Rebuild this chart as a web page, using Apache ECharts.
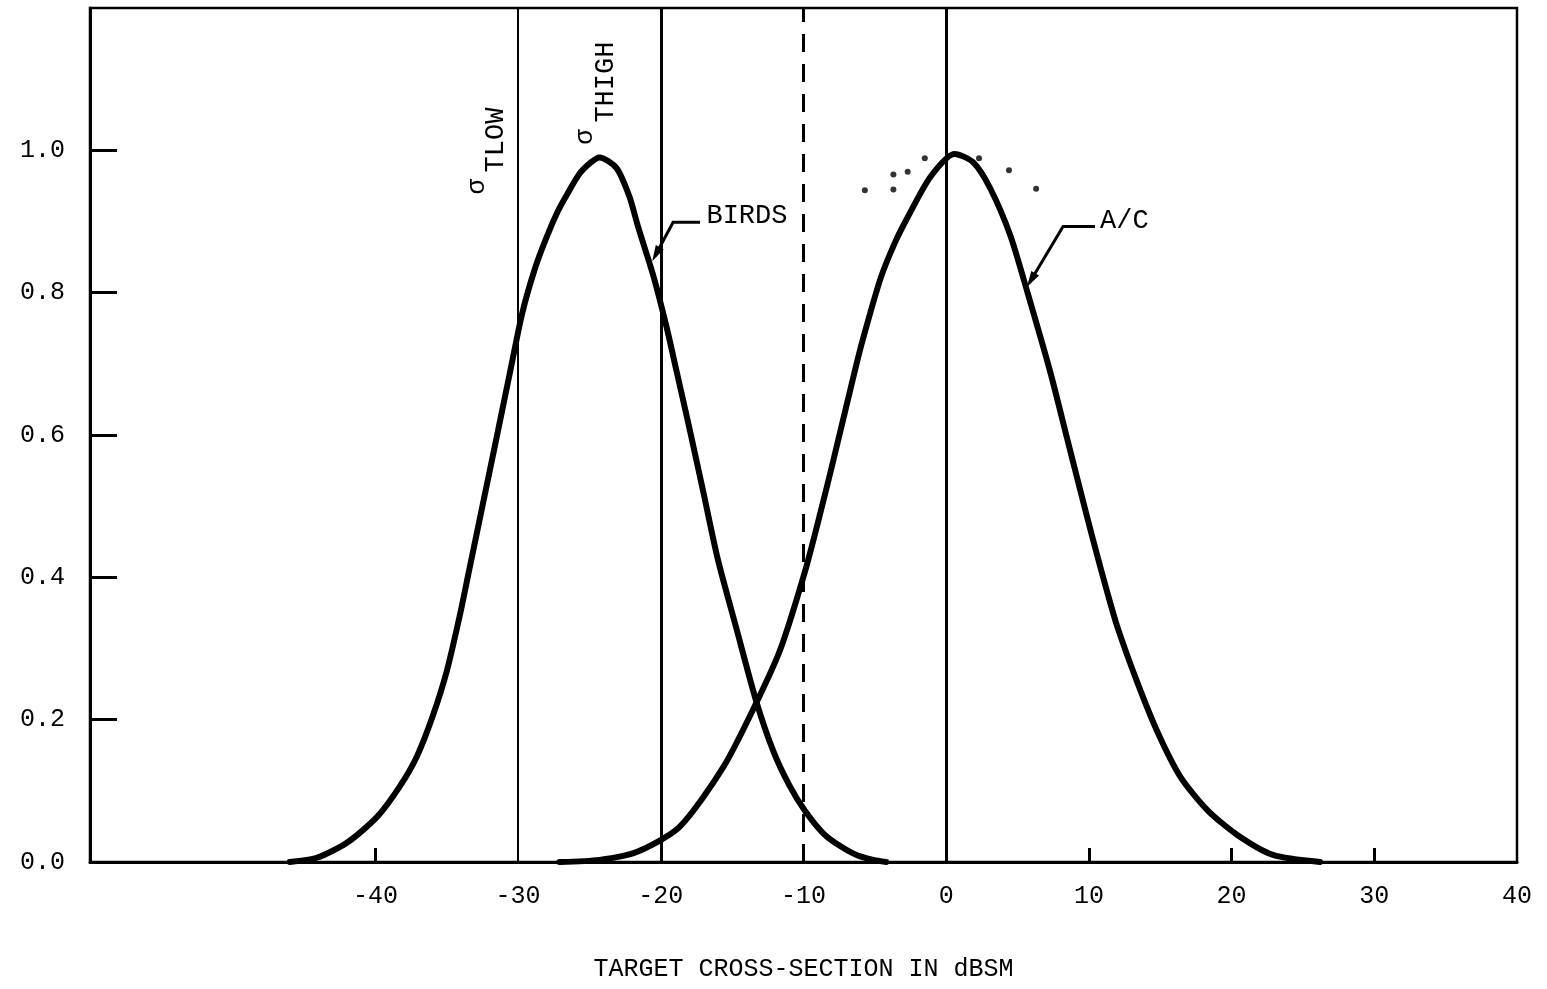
<!DOCTYPE html>
<html>
<head>
<meta charset="utf-8">
<script src="https://cdn.jsdelivr.net/npm/echarts@6/dist/echarts.min.js"></script>
<style>
  html, body { margin: 0; padding: 0; background: #fff; }
  #main { width: 1547px; height: 989px; }
</style>
</head>
<body>
<div id="main"></div>
<script>
// birds curve (dBSM, relative density)
var birdsX = [-46.0, -44.1, -42.0, -39.9, -38.3, -37.1, -36.0, -35.0, -34.1, -33.4, -32.5, -31.5, -30.6, -29.7, -28.8, -28.0, -27.2, -26.6, -25.7, -24.9, -24.3, -23.1, -22.2, -21.6, -20.5, -19.6, -18.9, -18.0, -17.0, -16.0, -14.7, -13.3, -12.1, -11.0, -9.9, -8.6, -7.4, -6.2, -5.1, -4.2];
var birdsY = [0.0, 0.006, 0.027, 0.063, 0.106, 0.148, 0.204, 0.268, 0.345, 0.413, 0.500, 0.597, 0.685, 0.772, 0.835, 0.878, 0.915, 0.937, 0.967, 0.983, 0.990, 0.975, 0.935, 0.893, 0.822, 0.752, 0.690, 0.610, 0.518, 0.425, 0.328, 0.225, 0.155, 0.108, 0.072, 0.040, 0.022, 0.009, 0.003, 0.0];

// aircraft curve
var acX = [-27.1, -24.3, -21.7, -18.7, -15.6, -13.3, -11.6, -9.9, -8.8, -7.9, -6.5, -5.9, -4.6, -3.6, -2.7, -1.1, 0.6, 1.9, 3.1, 4.5, 5.7, 7.3, 8.5, 9.4, 10.3, 11.3, 12.0, 13.4, 14.8, 16.4, 18.3, 20.4, 22.9, 26.2];
var acY = [0.0, 0.003, 0.014, 0.049, 0.134, 0.224, 0.300, 0.408, 0.492, 0.565, 0.682, 0.730, 0.820, 0.870, 0.906, 0.963, 0.995, 0.983, 0.946, 0.880, 0.800, 0.688, 0.593, 0.522, 0.452, 0.378, 0.330, 0.252, 0.183, 0.120, 0.073, 0.038, 0.010, 0.0];

// loose dots near the A/C peak
var dotsX = [-5.7, -3.7, -2.7, -3.7, -1.5, 2.3, 4.4, 6.3];
var dotsY = [0.944, 0.966, 0.970, 0.945, 0.989, 0.989, 0.972, 0.946];

// vertical lines
var solidLines = [-30, -20, 0];
var dashedLines = [-10];

// tick labels
var xTickLabels = [-40, -30, -20, -10, 0, 10, 20, 30, 40];
var xTickMarks = [-40, 10, 20, 30];
var yTickLabels = [0, 0.2, 0.4, 0.6, 0.8, 1.0];

var FONT = '"Liberation Mono", "DejaVu Sans Mono", monospace';

function zip(xs, ys) {
  var out = [];
  for (var i = 0; i < xs.length; i++) out.push([xs[i], ys[i]]);
  return out;
}

var chart = echarts.init(document.getElementById('main'));

var markData = [];
solidLines.forEach(function (v) {
  markData.push({ xAxis: v, lineStyle: { type: 'solid', width: v === -30 ? 2 : 3 } });
});
dashedLines.forEach(function (v) {
  markData.push({ xAxis: v, lineStyle: { type: [18, 12], width: 3 } });
});

var curveStyle = { color: '#000', width: 6, cap: 'round', join: 'round' };

var option = {
  animation: false,
  backgroundColor: '#fff',
  grid: {
    left: 90, right: 30, top: 8, bottom: 127,
    show: true, borderColor: '#000', borderWidth: 2.5
  },
  xAxis: {
    type: 'value',
    min: -60, max: 40, interval: 10,
    name: 'TARGET CROSS-SECTION IN dBSM',
    nameLocation: 'middle',
    nameGap: 95,
    nameTextStyle: { fontFamily: FONT, fontSize: 25, color: '#000' },
    axisLine: { show: true, onZero: false, lineStyle: { color: '#000', width: 3 } },
    axisTick: { show: true, inside: true, length: 14, customValues: xTickMarks, lineStyle: { color: '#000', width: 3 } },
    axisLabel: {
      customValues: xTickLabels,
      margin: 22,
      fontFamily: FONT, fontSize: 25, color: '#000',
      formatter: function (v) { return String(v); }
    },
    splitLine: { show: false }
  },
  yAxis: {
    type: 'value',
    min: 0, max: 1.2, interval: 0.2,
    axisLine: { show: true, onZero: false, lineStyle: { color: '#000', width: 3 } },
    axisTick: { show: true, inside: true, length: 27, customValues: yTickLabels, lineStyle: { color: '#000', width: 3 } },
    axisLabel: {
      customValues: yTickLabels,
      margin: 25,
      fontFamily: FONT, fontSize: 25, color: '#000',
      formatter: function (v) { return v.toFixed(1); }
    },
    splitLine: { show: false }
  },
  series: [
    {
      name: 'verticals',
      type: 'line',
      data: [],
      silent: true,
      markLine: {
        silent: true,
        symbol: ['none', 'none'],
        label: { show: false },
        lineStyle: { color: '#000' },
        data: markData
      }
    },
    {
      name: 'BIRDS',
      type: 'line',
      data: zip(birdsX, birdsY),
      smooth: 0.25,
      showSymbol: false,
      lineStyle: curveStyle
    },
    {
      name: 'A/C',
      type: 'line',
      data: zip(acX, acY),
      smooth: 0.25,
      showSymbol: false,
      lineStyle: curveStyle
    },
    {
      name: 'dots',
      type: 'scatter',
      data: zip(dotsX, dotsY),
      symbolSize: 6,
      itemStyle: { color: '#000' }
    }
  ]
};
chart.setOption(option);

// annotations, anchored in data space
function px(x, y) { return chart.convertToPixel({ gridIndex: 0 }, [x, y]); }

function leader(textPt, endPt, elbowPt, tipPt, text) {
  var a = px(endPt[0], endPt[1]);
  var b = px(elbowPt[0], elbowPt[1]);
  var c = px(tipPt[0], tipPt[1]);
  var t = px(textPt[0], textPt[1]);
  var dx = c[0] - b[0], dy = c[1] - b[1];
  var len = Math.sqrt(dx * dx + dy * dy);
  var ux = dx / len, uy = dy / len;
  var bx = c[0] - 16 * ux, by = c[1] - 16 * uy;
  var nx = -uy, ny = ux;
  return [
    { type: 'polyline', shape: { points: [a, b, [c[0] - 6 * ux, c[1] - 6 * uy]] }, style: { stroke: '#000', lineWidth: 3, fill: null } },
    { type: 'polygon', shape: { points: [c, [bx + 4.5 * nx, by + 4.5 * ny], [bx - 4.5 * nx, by - 4.5 * ny]] }, style: { fill: '#000' } },
    { type: 'text', x: t[0], y: t[1], style: { text: text, fontFamily: FONT, fontSize: 27, fill: '#000', align: 'left', verticalAlign: 'middle' } }
  ];
}

function vlabel(sPt, subPt, sub) {
  var s = px(sPt[0], sPt[1]);
  var u = px(subPt[0], subPt[1]);
  return [
    { type: 'text', x: s[0], y: s[1], rotation: Math.PI / 2, style: { text: 'σ', fontFamily: FONT, fontSize: 26, fill: '#000', align: 'left', verticalAlign: 'middle' } },
    { type: 'text', x: u[0], y: u[1], rotation: Math.PI / 2, style: { text: sub, fontFamily: FONT, fontSize: 27, fill: '#000', align: 'left', verticalAlign: 'middle' } }
  ];
}

var g = [];
g = g.concat(leader([-16.8, 0.908], [-17.25, 0.899], [-19.14, 0.899], [-20.6, 0.844], 'BIRDS'));
g = g.concat(leader([10.78, 0.901], [10.43, 0.893], [8.19, 0.893], [5.66, 0.808], 'A/C'));
g = g.concat(vlabel([-32.9, 0.938], [-31.55, 0.969], 'TLOW'));
g = g.concat(vlabel([-25.3, 1.008], [-23.84, 1.039], 'THIGH'));

chart.setOption({ graphic: g });
</script>
</body>
</html>
